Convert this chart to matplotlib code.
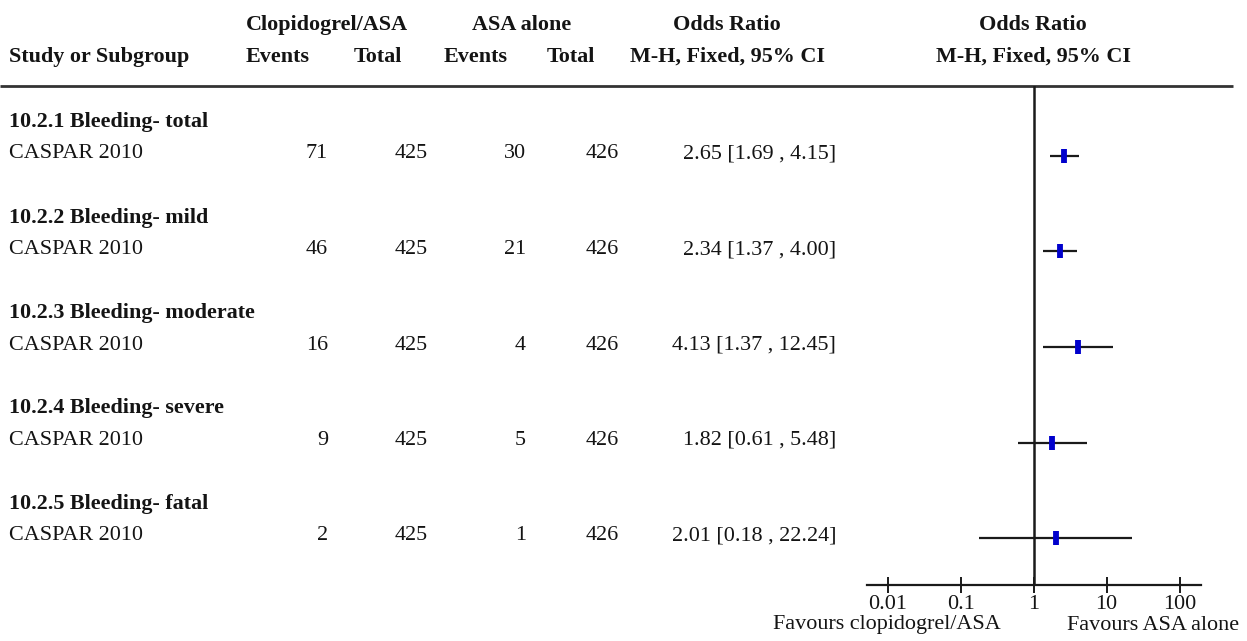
import matplotlib
matplotlib.use("Agg")
import matplotlib.pyplot as plt
import numpy as np

plt.rcParams['font.family'] = ['Liberation Serif', 'DejaVu Serif']

# ---- data ----
subgroups = ["10.2.1 Bleeding- total", "10.2.2 Bleeding- mild",
             "10.2.3 Bleeding- moderate", "10.2.4 Bleeding- severe",
             "10.2.5 Bleeding- fatal"]
studies = ["CASPAR 2010"] * 5
clop_events = [71, 46, 16, 9, 2]
clop_total = [425, 425, 425, 425, 425]
asa_events = [30, 21, 4, 5, 1]
asa_total = [426, 426, 426, 426, 426]
odds_ratio = [2.65, 2.34, 4.13, 1.82, 2.01]
ci_low = [1.69, 1.37, 1.37, 0.61, 0.18]
ci_high = [4.15, 4.00, 12.45, 5.48, 22.24]
axis_ticks = [0.01, 0.1, 1, 10, 100]
axis_labels = ["0.01", "0.1", "1", "10", "100"]
favours_left = "Favours clopidogrel/ASA"
favours_right = "Favours ASA alone"

W, H = 1247, 641
fig = plt.figure(figsize=(W / 100, H / 100), dpi=100)

# text layer in pixel coordinates (y downwards)
ax_t = fig.add_axes([0, 0, 1, 1])
ax_t.set_xlim(0, W)
ax_t.set_ylim(H, 0)
ax_t.axis("off")

FS = 15.9
ink = "#141414"


def bold(x, y, s, ha="center"):
    ax_t.text(x, y, s, ha=ha, va="center", fontsize=FS, fontweight="bold", color=ink)


def plain(x, y, s, ha="left"):
    ax_t.text(x, y, s, ha=ha, va="center", fontsize=FS, color=ink)


# column headers
hdr1_y, hdr2_y = 25, 57
bold(327, hdr1_y, "Clopidogrel/ASA")
bold(522, hdr1_y, "ASA alone")
bold(727, hdr1_y, "Odds Ratio")
bold(1033, hdr1_y, "Odds Ratio")
bold(9, hdr2_y, "Study or Subgroup", ha="left")
bold(278, hdr2_y, "Events")
bold(378, hdr2_y, "Total")
bold(476, hdr2_y, "Events")
bold(571, hdr2_y, "Total")
bold(727, hdr2_y, "M-H, Fixed, 95% CI")
bold(1033, hdr2_y, "M-H, Fixed, 95% CI")

# rule under headers
ax_t.plot([0, 1233], [86, 86], color="#333333", lw=2.0, solid_capstyle="butt")

# forest panel: log x axis, y shares the pixel layout
top_px, bot_px = 86, 585
left_px, right_px = 867, 1201
ax_f = fig.add_axes([left_px / W, (H - bot_px) / H, (right_px - left_px) / W, (bot_px - top_px) / H])
ax_f.set_xscale("log")
dec = (1180 - 888) / 4.0
lo = 10 ** ((left_px - 1033.5) / dec)
hi = 10 ** ((right_px - 1033.5) / dec)
ax_f.set_xlim(lo, hi)
ax_f.set_ylim(bot_px, top_px)
ax_f.patch.set_alpha(0)
for s in ["top", "left", "right"]:
    ax_f.spines[s].set_visible(False)
ax_f.spines["bottom"].set_linewidth(1.6)
ax_f.spines["bottom"].set_color("#1a1a1a")
ax_f.set_yticks([])
ax_f.set_xticks(axis_ticks)
ax_f.set_xticklabels(axis_labels)
ax_f.minorticks_off()
ax_f.tick_params(axis="x", direction="inout", length=11, width=1.4, color="#1a1a1a",
                 labelsize=FS, labelcolor=ink, pad=2)
ax_f.axvline(1, color="#1a1a1a", lw=1.8)

row_y = [156 + 95.5 * i for i in range(len(studies))]
for i, y in enumerate(row_y):
    ty = y - 2
    bold(9, ty - 32, subgroups[i], ha="left")
    plain(9, ty, studies[i])
    plain(328, ty, str(clop_events[i]), ha="right")
    plain(428, ty, str(clop_total[i]), ha="right")
    plain(526, ty, str(asa_events[i]), ha="right")
    plain(619, ty, str(asa_total[i]), ha="right")
    plain(836, ty, f"{odds_ratio[i]:.2f} [{ci_low[i]:.2f} , {ci_high[i]:.2f}]", ha="right")
    ax_f.plot([ci_low[i], ci_high[i]], [y, y], color="#1a1a1a", lw=1.6, solid_capstyle="butt")
    ax_f.plot([odds_ratio[i]], [y], marker="|", markersize=10.5, markeredgewidth=4.2,
              color="#0000cc", linestyle="none")

# favours labels
plain(1001, 625, favours_left, ha="right")
plain(1067, 625, favours_right, ha="left")

fig.savefig("out.png", dpi=100)
